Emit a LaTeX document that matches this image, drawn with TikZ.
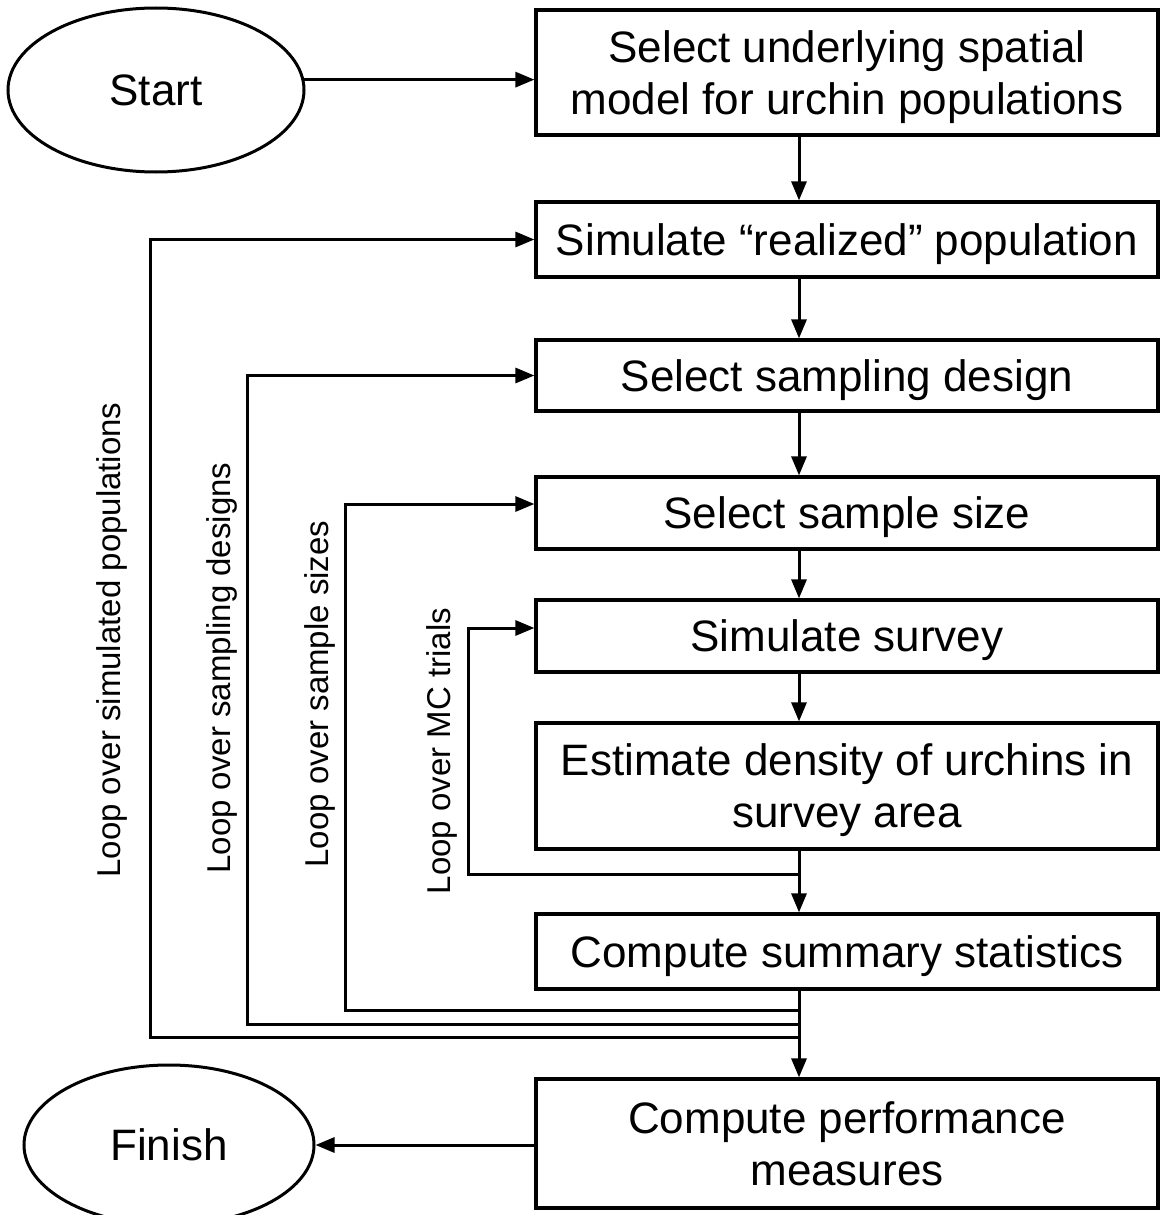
\documentclass[tikz,border=0pt]{standalone}
\usepackage{fontspec}
\setmainfont{Liberation Sans}
\usetikzlibrary{arrows.meta,shapes.geometric,calc}
\begin{document}
\begin{tikzpicture}[x=1pt,y=-1pt,
  box/.style={draw,line width=3.2pt,minimum width=622pt,inner sep=0pt,align=center,text depth=0pt,font=\fontsize{44}{52}\selectfont},
  oval/.style={draw,ellipse,line width=3pt,inner sep=0pt,font=\fontsize{44}{52}\selectfont},
  arr/.style={line width=3pt,-{Triangle[length=19pt,width=15pt]}},
  looplbl/.style={rotate=90,font=\fontsize{33}{38}\selectfont,inner sep=0pt}]
\useasboundingbox (0,0) rectangle (1164,1215);
\fill[white] (0,0) rectangle (1164,1215);

\node[oval,minimum width=296pt,minimum height=164pt] (start) at (156,90) {Start};
\node[oval,minimum width=290pt,minimum height=160pt] (fin) at (169,1145) {Finish};

\node[box,minimum height=125pt] (b1) at (847,72.5) {Select underlying spatial\\model for urchin populations};
\node[box,minimum height=75pt] (b2) at (847,239.5) {Simulate “realized” population};
\node[box,minimum height=71pt] (b3) at (847,375.5) {Select sampling design};
\node[box,minimum height=72pt] (b4) at (847,513) {Select sample size};
\node[box,minimum height=72pt] (b5) at (847,636) {Simulate survey};
\node[box,minimum height=126pt] (b6) at (847,786) {Estimate density of urchins in\\survey area};
\node[box,minimum height=75pt] (b7) at (847,951.5) {Compute summary statistics};
\node[box,minimum height=129pt] (b8) at (847,1143.5) {Compute performance\\measures};

\node[looplbl] (t1) at (112,640) {Loop over simulated populations};
\node[looplbl] (t2) at (222,668) {Loop over sampling designs};
\node[looplbl] (t3) at (320,694) {Loop over sample sizes};
\node[looplbl] (t4) at (442,751) {Loop over MC trials};

\coordinate (col) at (799,0);
\coordinate (r1) at (150,0);
\coordinate (r2) at (247,0);
\coordinate (r3) at (345,0);
\coordinate (r4) at (468,0);
\coordinate (j1) at (799,1037);
\coordinate (j2) at (799,1024);
\coordinate (j3) at (799,1010);
\coordinate (j4) at (799,874);
\coordinate (e4) at ($(b4.west)+(0,-9)$);
\coordinate (e5) at ($(b5.west)+(0,-8)$);

% main flow
\draw[arr] (start.4) -- (start.4 -| b1.west);
\draw[arr] (b1.south -| col) -- (b2.north -| col);
\draw[arr] (b2.south -| col) -- (b3.north -| col);
\draw[arr] (b3.south -| col) -- (b4.north -| col);
\draw[arr] (b4.south -| col) -- (b5.north -| col);
\draw[arr] (b5.south -| col) -- (b6.north -| col);
\draw[arr] (b6.south -| col) -- (b7.north -| col);
\draw[arr] (b7.south -| col) -- (b8.north -| col);
\draw[arr] (b8.west |- fin.east) -- (fin.east);

% loops
\draw[arr,line join=miter] (j1) -| (r1 |- b2.west) -- (b2.west);
\draw[arr,line join=miter] (j2) -| (r2 |- b3.west) -- (b3.west);
\draw[arr,line join=miter] (j3) -| (r3 |- e4) -- (e4);
\draw[arr,line join=miter] (j4) -| (r4 |- e5) -- (e5);
\end{tikzpicture}
\end{document}
